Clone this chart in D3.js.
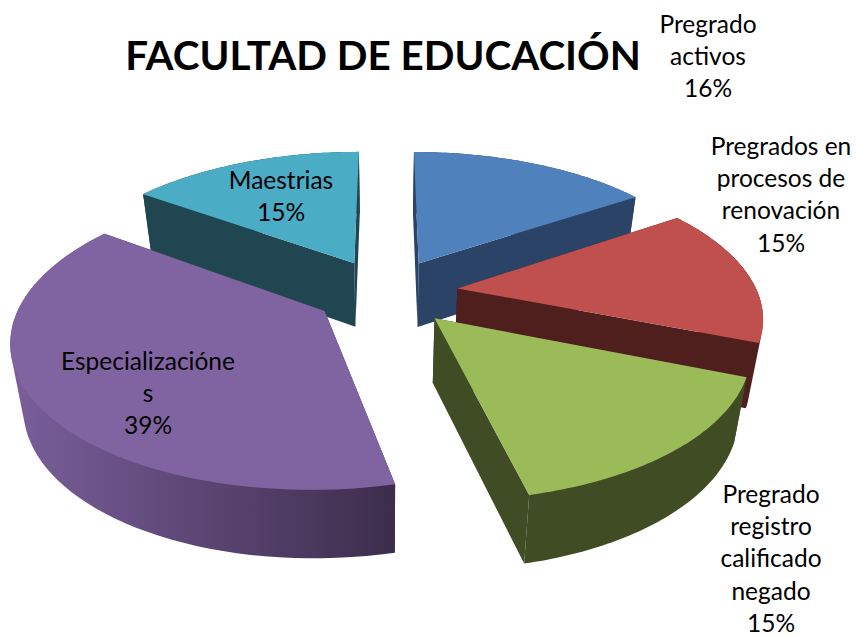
<!DOCTYPE html>
<html>
<head>
<meta charset="utf-8">
<script src="https://cdn.jsdelivr.net/npm/d3@7"></script>
<style>
  html, body { margin: 0; padding: 0; background: #fff; }
  text { font-family: Lato, "Open Sans", sans-serif; fill: #000; }
</style>
</head>
<body>
<svg id="chart" width="856" height="638"></svg>
<script>
'use strict';

var categories = ['Pregrado activos', 'Pregrados en procesos de renovación', 'Pregrado registro calificado negado', 'Especializaciónes', 'Maestrias'];
// the printed labels are rounded
var values = [15.6, 15.4, 15.4, 38.5, 15.1];
var labelLines = [
  ['Pregrado', 'activos', '16%'],
  ['Pregrados en', 'procesos de', 'renovación', '15%'],
  ['Pregrado', 'registro', 'calificado', 'negado', '15%'],
  ['Especializacióne', 's', '39%'],
  ['Maestrias', '15%']
];
var topColors = ['#4f81bd', '#c0504d', '#9bbb59', '#8064a2', '#4bacc6'];
var wallColors = ['#2a4366', '#4f1f1e', '#3f4c24', '#3e3050', '#1f4651'];

// where the labels sit, first line baseline
var labelPos = [[708, 33], [781, 155], [771, 503], [148, 370], [281, 189]];

var svg = d3.select('#chart');
var defs = svg.append('defs');

/* fake perspective: disc point -> screen, k pulls the far side in */
var cx = 386, cy = 292, rx = 300, ry = 140, k = 0.175, explode = 0.24, shrink = 0.965;
var project = function (u, v) {
  var s = 1 / (1 - k * v);
  return [cx + u * rx * s, cy + v * ry * s];
};
var lower = function (p) {
  // near side of the wall is a bit taller
  return [cx + (p[0] - cx) * shrink, p[1] + 62 + (p[1] - 195) * 0.022];
};

var pie = d3.pie().sort(null).value(function (d) { return d; });
var arcs = pie(values);

var line = d3.line();

var pieces = arcs.map(function (a, i) {
  var mid = (a.startAngle + a.endAngle) / 2;
  var ou = explode * Math.sin(mid), ov = -explode * Math.cos(mid);
  var rim = d3.range(0, 61).map(function (j) {
    var t = a.startAngle + (a.endAngle - a.startAngle) * j / 60;
    return project(ou + Math.sin(t), ov - Math.cos(t));
  });
  return { i: i, apex: project(ou, ov), rim: rim };
});

// purple side fades to dark from left to right
var grad = defs.append('linearGradient').attr('id', 'purpleSide')
  .attr('gradientUnits', 'userSpaceOnUse').attr('x1', 8).attr('x2', 395).attr('y1', 0).attr('y2', 0);
grad.append('stop').attr('offset', 0).attr('stop-color', '#7a5f9b');
grad.append('stop').attr('offset', 1).attr('stop-color', '#3d2d4c');

// back to front
[4, 0, 1, 3, 2].forEach(function (i) {
  var p = pieces[i];
  var g = svg.append('g').attr('class', 'slice');
  var wall = i === 3 ? 'url(#purpleSide)' : wallColors[i];
  var first = p.rim[0], last = p.rim[p.rim.length - 1];
  // radial walls
  [first, last].forEach(function (e) {
    g.append('path')
      .attr('d', line([p.apex, e, lower(e), lower(p.apex)]) + 'Z')
      .attr('fill', wallColors[i]);
  });
  // outer wall: hull of both rims, the chord hides under the top face
  g.append('path')
    .attr('d', line(d3.polygonHull(p.rim.concat(p.rim.map(lower)))) + 'Z')
    .attr('fill', wall);
  // top
  g.append('path')
    .attr('d', line([p.apex].concat(p.rim)) + 'Z')
    .attr('fill', topColors[i]);
});

svg.append('text')
  .attr('x', 383).attr('y', 70)
  .attr('text-anchor', 'middle')
  .style('font-size', '40.4px').style('font-weight', 700)
  .text('FACULTAD DE EDUCACIÓN');

labelLines.forEach(function (lines, i) {
  var t = svg.append('text')
    .attr('class', 'label')
    .attr('text-anchor', 'middle')
    .style('font-size', '24.5px');
  lines.forEach(function (l, j) {
    t.append('tspan')
      .attr('x', labelPos[i][0])
      .attr('y', labelPos[i][1] + j * 32.2)
      .text(l);
  });
});
</script>
</body>
</html>
